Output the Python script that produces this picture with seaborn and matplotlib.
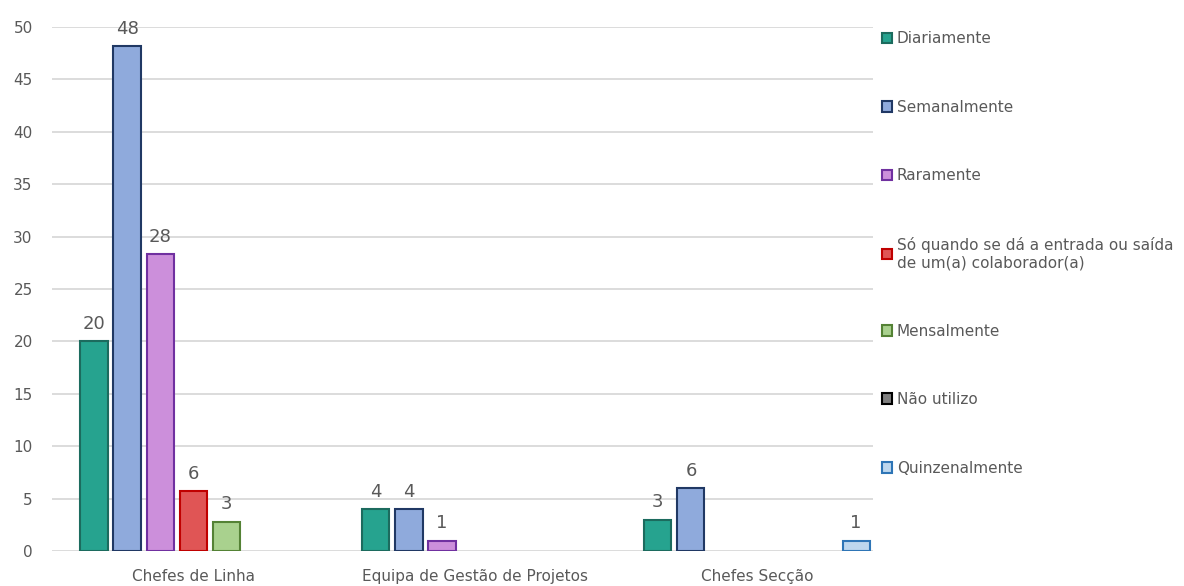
import pandas as pd
import seaborn as sns
import matplotlib as mpl
import matplotlib.pyplot as plt
from matplotlib.patches import Patch

categories = ["Chefes de Linha", "Equipa de Gestão de Projetos", "Chefes Secção"]
series = [
    "Diariamente",
    "Semanalmente",
    "Raramente",
    "Só quando se dá a entrada ou saída\nde um(a) colaborador(a)",
    "Mensalmente",
    "Não utilizo",
    "Quinzenalmente",
]
# one list per category, None = no bar
chefes_linha = [20, 48.2, 28.3, 5.7, 2.8, None, None]
equipa_gestao = [4, 4, 1, None, None, None, None]
chefes_seccao = [3, 6, None, None, None, None, 1]

fills = ["#26A38F", "#8FAADC", "#CC8FDB", "#E05555", "#A9D18E", "#7F7F7F", "#BDD7EE"]
edges = ["#1C6B5E", "#203864", "#7030A0", "#C00000", "#548235", "#000000", "#2E75B6"]

rows = []
for cat, vals in zip(categories, [chefes_linha, equipa_gestao, chefes_seccao]):
    for s, v in zip(series, vals):
        if v is not None:
            rows.append({"cat": cat, "serie": s, "valor": v})
df = pd.DataFrame(rows)

sns.set_theme(style="white")
plt.rcParams["font.family"] = ["DejaVu Sans"]
mpl.rcParams["figure.dpi"] = 100
txt = "#595959"

fig = plt.figure(figsize=(11.84, 5.86))
ax = fig.add_axes([0.044, 0.0597, 0.693, 0.8942])

sns.barplot(
    data=df,
    x="cat",
    y="valor",
    hue="serie",
    order=categories,
    hue_order=series,
    palette=dict(zip(series, fills)),
    width=0.82,
    gap=0.18,
    linewidth=1.5,
    saturation=1,
    legend=False,
    ax=ax,
)

for cont in ax.containers:
    if len(cont.patches) == 0:
        continue
    fc = mpl.colors.to_hex(cont.patches[0].get_facecolor())
    i = [f.lower() for f in fills].index(fc.lower())
    for p in cont.patches:
        p.set_edgecolor(edges[i])
    ax.bar_label(cont, fmt="%.0f", padding=6, color=txt, fontsize=13)

ax.set_ylim(0, 50)
ax.set_yticks(range(0, 51, 5))
ax.set_xlim(-0.5, 2.41)
ax.grid(axis="y", color="#D9D9D9", linewidth=1.3)
ax.set_axisbelow(True)
sns.despine(ax=ax, left=True, bottom=True, top=True, right=True)
ax.set_xlabel(None)
ax.set_ylabel(None)
ax.tick_params(axis="both", length=0, labelsize=11, labelcolor=txt)
ax.tick_params(axis="x", pad=13)
ax.tick_params(axis="y", pad=14)

handles = [Patch(facecolor=f, edgecolor=e, linewidth=1.5) for f, e in zip(fills, edges)]
leg = fig.legend(
    handles,
    series,
    loc="upper left",
    bbox_to_anchor=(0.733, 0.97),
    frameon=False,
    fontsize=11,
    labelcolor=txt,
    handlelength=0.7,
    handleheight=0.7,
    handletextpad=0.3,
    labelspacing=3.5,
)

plt.savefig("out.png", dpi=100)
